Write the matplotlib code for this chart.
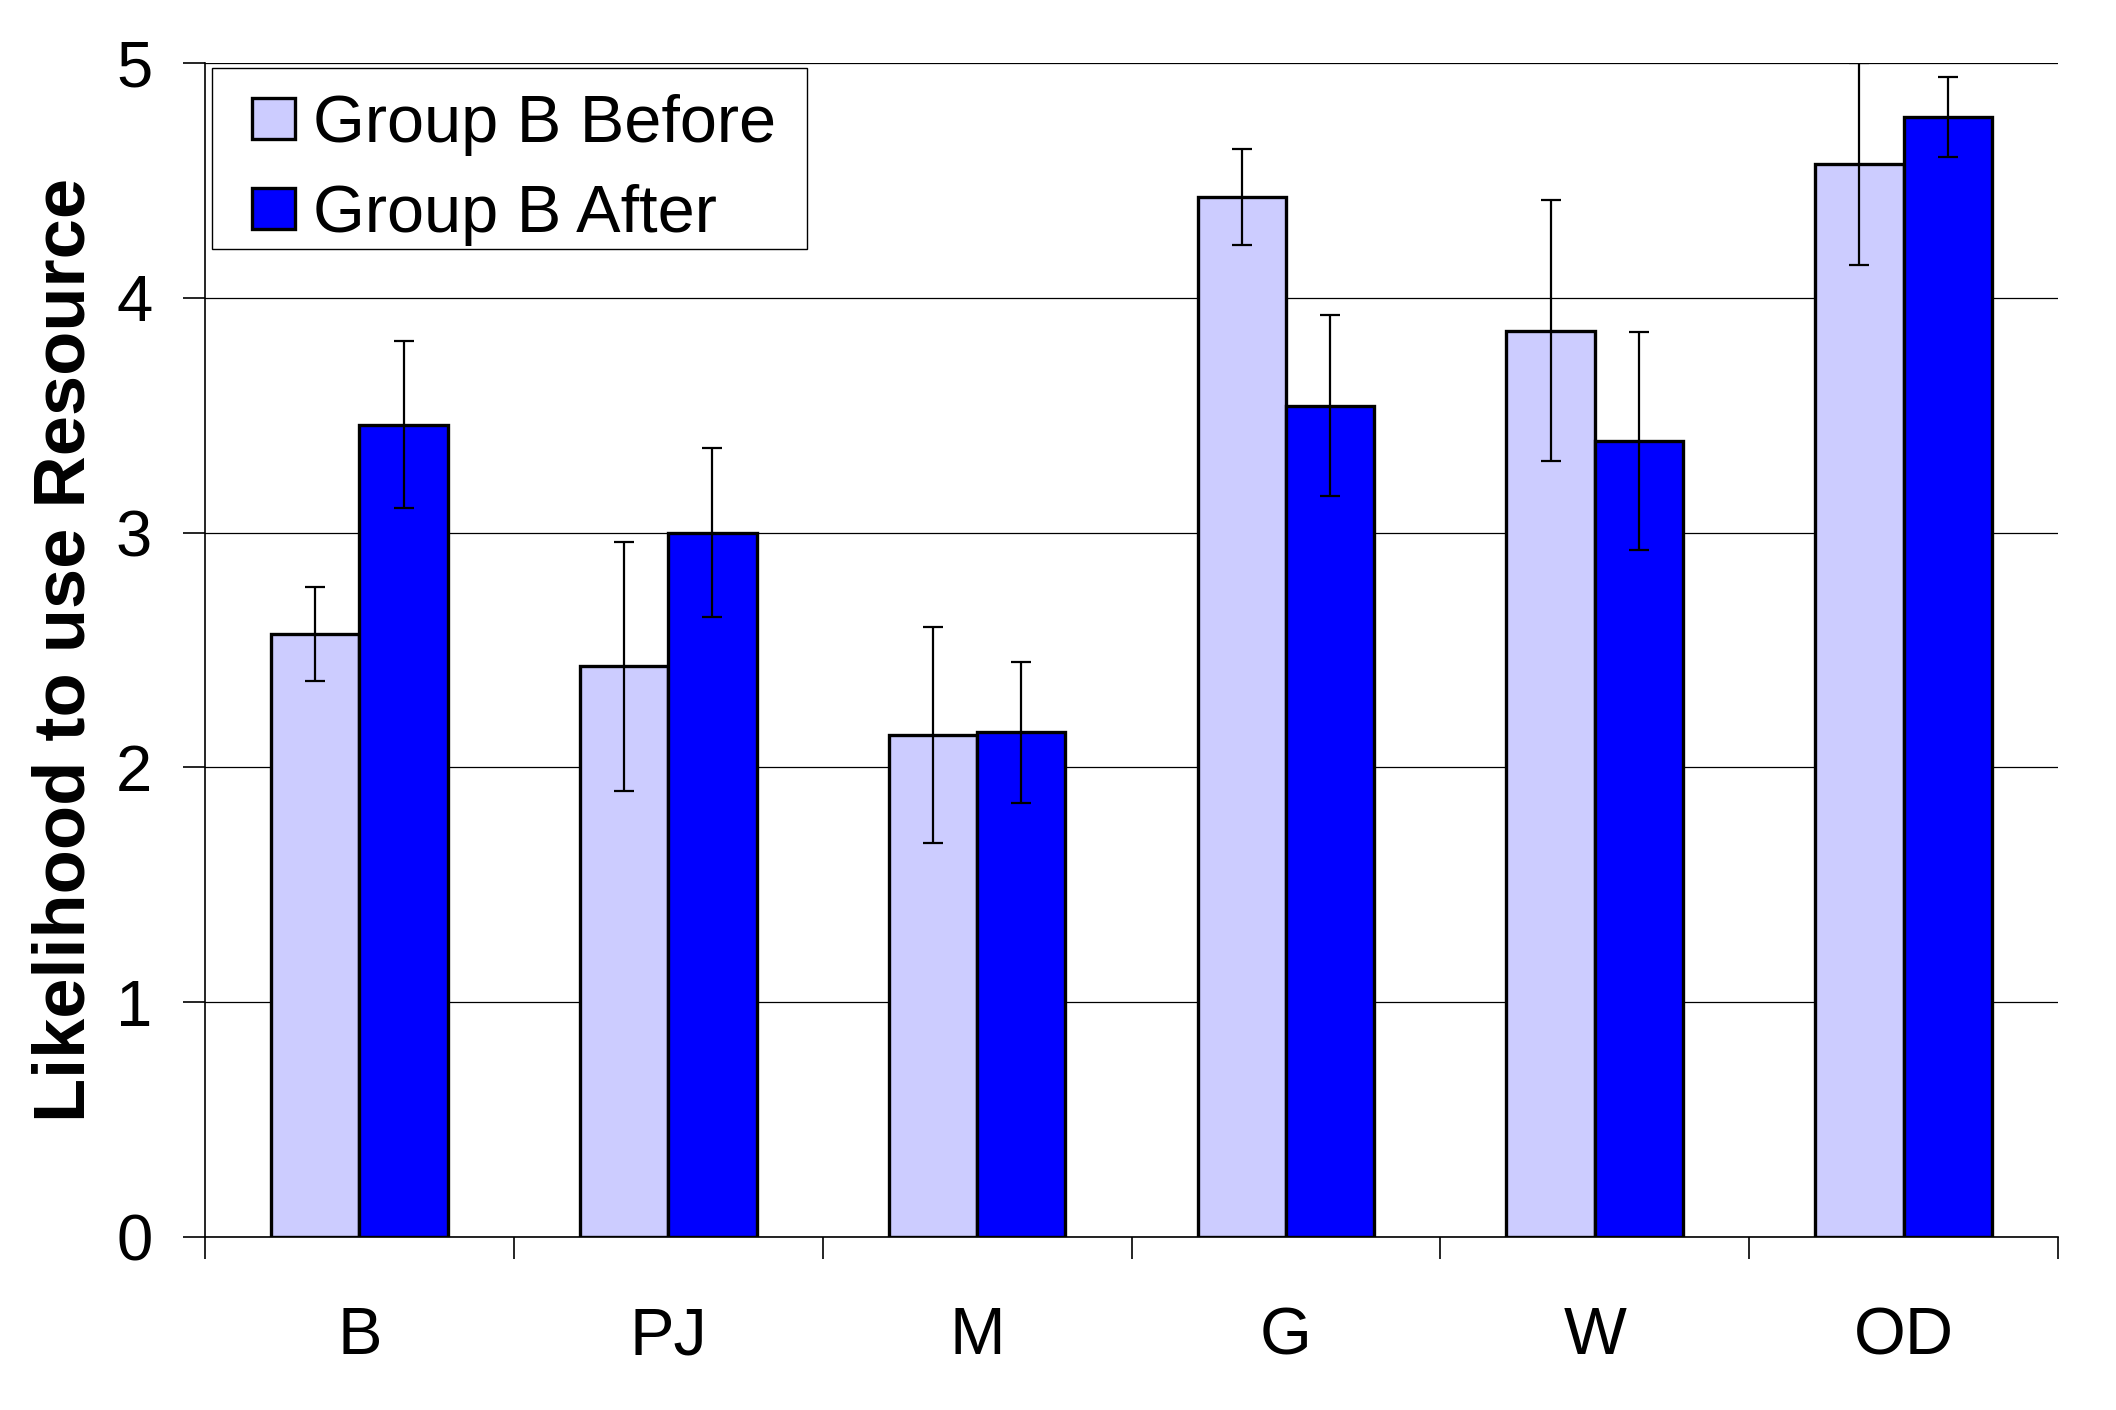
import matplotlib
matplotlib.use('Agg')

import numpy as np
import matplotlib.pyplot as plt
from matplotlib.ticker import FixedLocator
from matplotlib.patches import Rectangle
from matplotlib.container import BarContainer
from matplotlib.legend_handler import HandlerPatch, update_from_first_child

plt.rcParams['font.family'] = ['Liberation Sans', 'DejaVu Sans']

categories = ["B", "PJ", "M", "G", "W", "OD"]
before = [2.57, 2.43, 2.14, 4.43, 3.86, 4.57]
before_err = [0.20, 0.53, 0.46, 0.205, 0.555, 0.43]
after = [3.46, 3.00, 2.15, 3.54, 3.39, 4.77]
after_err = [0.355, 0.36, 0.30, 0.385, 0.465, 0.17]

x = np.arange(len(categories))
w = 0.286

fig = plt.figure(figsize=(21.16, 14.10), dpi=100)
ax = fig.add_axes([0.0969, 0.1227, 0.8757, 0.8326])

ax.bar(x - w/2, before, w, color="#CCCCFF", edgecolor="black", linewidth=2.4,
       label="Group B Before", zorder=2)
ax.bar(x + w/2, after, w, color="#0000FF", edgecolor="black", linewidth=2.4,
       label="Group B After", zorder=2)
ax.errorbar(x - w/2, before, yerr=before_err, fmt="none", ecolor="black",
            elinewidth=1.6, capsize=7, capthick=1.6, zorder=3)
ax.errorbar(x + w/2, after, yerr=after_err, fmt="none", ecolor="black",
            elinewidth=1.6, capsize=7, capthick=1.6, zorder=3)

ax.set_xlim(-0.5, len(categories) - 0.5)
ax.set_ylim(0, 5)
ax.set_yticks([0, 1, 2, 3, 4, 5])
ax.yaxis.grid(True, color="black", linewidth=0.9)
ax.set_axisbelow(True)

ax.set_xticks(x)
ax.set_xticklabels(categories)
ax.xaxis.set_minor_locator(FixedLocator(np.arange(-0.5, len(categories), 1.0)))
ax.tick_params(axis="x", which="major", length=0, pad=50, labelsize=48)
ax.tick_params(axis="x", which="minor", length=16, width=1.2, direction="out")
ax.tick_params(axis="y", length=16, width=1.2, direction="out", pad=22, labelsize=47)

for s in ["top", "right"]:
    ax.spines[s].set_visible(False)
ax.spines["left"].set_linewidth(1.2)
ax.spines["bottom"].set_linewidth(1.2)

ax.set_ylabel("Likelihood to use Resource", fontsize=52, fontweight="bold")
ax.yaxis.set_label_coords(-0.057, 0.5)


def small_box(legend, orig_handle, xdescent, ydescent, width, height, fontsize):
    # swatch sits at the right part of the handle area, like Excel's legend
    return Rectangle((-xdescent + width * 0.37, -ydescent), width * 0.63, height)


leg = ax.legend(loc="upper left", bbox_to_anchor=(212/2116, 1 - 79/1410),
                bbox_transform=fig.transFigure, borderaxespad=0,
                fontsize=48, frameon=False,
                handlelength=1.02, handleheight=0.57,
                handletextpad=0.27, labelspacing=0.42, borderpad=0.22,
                handler_map={BarContainer: HandlerPatch(patch_func=small_box,
                                                        update_func=update_from_first_child)})
leg.set_zorder(6)

# legend frame (Excel style, plain black box)
ax.add_patch(Rectangle((212/2116, 1 - 249/1410), 595/2116, 181/1410,
                       transform=fig.transFigure, facecolor="white",
                       edgecolor="black", linewidth=1.0, zorder=5, clip_on=False))

fig.savefig("out.png", dpi=100)
